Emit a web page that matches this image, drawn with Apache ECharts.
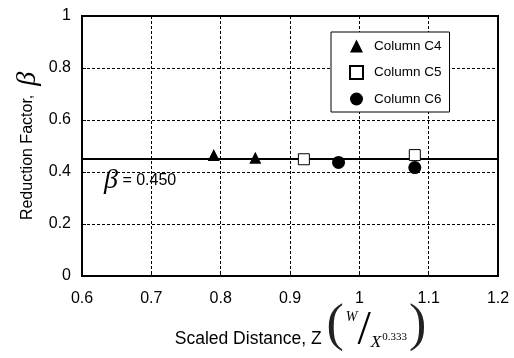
<!DOCTYPE html>
<html><head><meta charset="utf-8">
<script src="https://cdn.jsdelivr.net/npm/echarts@6/dist/echarts.min.js"></script>
<style>html,body{margin:0;padding:0;background:#fff}#c{width:514px;height:358px}</style>
</head><body><div id="c"></div>
<script>
const seriesNames = ['Column C4', 'Column C5', 'Column C6'];
const c4 = [[0.79, 0.465], [0.85, 0.455]];
const c5 = [[0.92, 0.449], [1.08, 0.465]];
const c6 = [[0.97, 0.437], [1.08, 0.417]];
const betaValue = 0.45;
const xTicks = { min: 0.6, max: 1.2, interval: 0.1 };
const yTicks = { min: 0, max: 1, interval: 0.2 };

const F = 'Liberation Sans, Arial, sans-serif';
const S = 'Liberation Serif, Times New Roman, serif';
const chart = echarts.init(document.getElementById('c'), null, { renderer: 'canvas' });
const fmt = v => String(+v.toFixed(1));
const axisCommon = {
  axisLine: { show: true, lineStyle: { color: '#000', width: 2 } },
  axisTick: { show: true, inside: true, length: 4, lineStyle: { color: '#000' } },
  splitLine: { show: true, lineStyle: { color: '#000', width: 1, type: [3, 2] } }
};
chart.setOption({
  animation: false,
  backgroundColor: '#fff',
  grid: { left: 82, right: 16, top: 16, bottom: 82, outerBoundsMode: 'none', containLabel: false,
    show: true, borderColor: '#000', borderWidth: 2, backgroundColor: 'transparent' },
  xAxis: Object.assign({
    type: 'value', min: xTicks.min, max: xTicks.max, interval: xTicks.interval,
    name: '{a|Scaled Distance, Z }{p|(}{w|W}{s|/}{x|X}{e|0.333}{p|)}',
    nameLocation: 'middle', nameGap: 31, nameMoveOverlap: false,
    nameTextStyle: {
      padding: [0, 0, 0, 21],
      rich: {
        a: { fontFamily: F, fontSize: 17.5, color: '#000' },
        p: { fontFamily: S, fontSize: 52, color: '#222', lineHeight: 56, padding: [0, 0, 26, 0] },
        w: { fontFamily: S, fontStyle: 'italic', fontSize: 14, color: '#000', verticalAlign: 'top', padding: [3, 0, 0, 2] },
        s: { fontFamily: S, fontSize: 48, color: '#000', padding: [0, 0, 16, 0] },
        x: { fontFamily: S, fontStyle: 'italic', fontSize: 17, color: '#000', verticalAlign: 'bottom', padding: [0, 0, 20, 0] },
        e: { fontFamily: S, fontSize: 11, color: '#000', verticalAlign: 'bottom', padding: [0, 2, 28, 1] }
      }
    },
    axisLabel: { color: '#000', fontFamily: F, fontSize: 16, margin: 15, formatter: fmt }
  }, axisCommon),
  yAxis: Object.assign({
    type: 'value', min: yTicks.min, max: yTicks.max, interval: yTicks.interval,
    name: '{a|Reduction Factor,  }{b|β}',
    nameLocation: 'middle', nameGap: 40, nameRotate: 90, nameMoveOverlap: false,
    nameTextStyle: {
      rich: {
        a: { fontFamily: F, fontSize: 16, color: '#000' },
        b: { fontFamily: S, fontStyle: 'italic', fontSize: 28, color: '#000' }
      }
    },
    axisLabel: { color: '#000', fontFamily: F, fontSize: 16, margin: 11, formatter: fmt }
  }, axisCommon),
  legend: {
    data: seriesNames,
    orient: 'vertical', left: 331, top: 32,
    backgroundColor: '#fff', borderColor: '#000', borderWidth: 1,
    padding: [7, 8, 6, 18], itemGap: 12, itemWidth: 13, itemHeight: 13,
    textStyle: { fontFamily: F, fontSize: 13.5, color: '#000', padding: [0, 0, 0, 6] }
  },
  series: [
    { name: seriesNames[0], type: 'scatter', data: c4, symbol: 'triangle', symbolSize: 12,
      itemStyle: { color: '#000', opacity: 1 }, z: 5,
      markLine: {
        silent: true, symbol: 'none',
        lineStyle: { color: '#000', width: 2, type: 'solid' },
        label: {
          show: true, position: 'insideStartBottom', distance: [22, 8],
          formatter: '{b|β}{a| = ' + betaValue.toFixed(3) + '}',
          rich: {
            a: { fontFamily: F, fontSize: 16, color: '#000' },
            b: { fontFamily: S, fontStyle: 'italic', fontSize: 28, color: '#000' }
          }
        },
        data: [{ yAxis: betaValue }]
      } },
    { name: seriesNames[1], type: 'scatter', data: c5, symbol: 'rect', symbolSize: 11,
      itemStyle: { color: '#fff', borderColor: '#000', borderWidth: 1, opacity: 1 }, z: 5 },
    { name: seriesNames[2], type: 'scatter', data: c6, symbol: 'circle', symbolSize: 13,
      itemStyle: { color: '#000', opacity: 1 }, z: 5 }
  ]
});
</script></body></html>
